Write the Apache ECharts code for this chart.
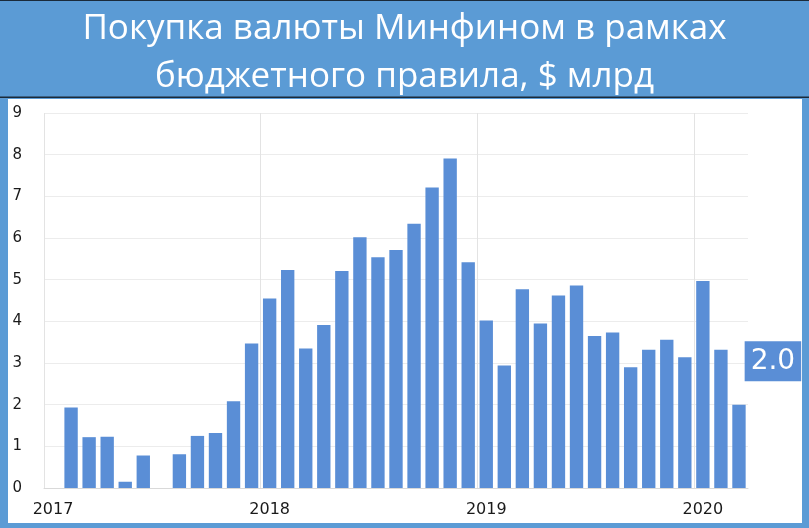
<!DOCTYPE html>
<html><head><meta charset="utf-8">
<script src="https://cdn.jsdelivr.net/npm/echarts@6/dist/echarts.min.js"></script>
<style>html,body{margin:0;padding:0;background:#5b9bd5}#c{width:809px;height:528px}</style>
</head><body><div id="c"></div><script>
const titleLines = ['Покупка валюты Минфином в рамках', 'бюджетного правила, $ млрд'];
const months = [
  '2017-01','2017-02','2017-03','2017-04','2017-05','2017-06','2017-07','2017-08','2017-09','2017-10','2017-11','2017-12',
  '2018-01','2018-02','2018-03','2018-04','2018-05','2018-06','2018-07','2018-08','2018-09','2018-10','2018-11','2018-12',
  '2019-01','2019-02','2019-03','2019-04','2019-05','2019-06','2019-07','2019-08','2019-09','2019-10','2019-11','2019-12',
  '2020-01','2020-02','2020-03'
];
const purchases = [
  null,1.93,1.22,1.23,0.15,0.78,0,0.81,1.25,1.32,2.08,3.47,
  4.55,5.23,3.35,3.91,5.21,6.02,5.54,5.71,6.34,7.21,7.91,5.42,
  4.02,2.94,4.77,3.95,4.62,4.86,3.65,3.73,2.90,3.32,3.56,3.14,
  4.97,3.32,2.0
];
const yTicks = [0,1,2,3,4,5,6,7,8,9];
// month boundaries (start of each month + end of last month) for the year gridlines
const boundaries = months.concat(['2020-04']);

const BLUE = '#5b9bd5';
const BAR = '#5a8ed6';

const data = purchases.map((v, i) => {
  if (i === purchases.length - 1) {
    return {
      value: v,
      label: {
        show: true, position: 'right', distance: 0, offset: [-1, -85],
        formatter: p => p.value.toFixed(1),
        color: '#fff', backgroundColor: BAR, fontSize: 28, lineHeight: 30,
        fontFamily: 'DejaVu Sans', padding: [5, 6, 5, 6]
      }
    };
  }
  return v;
});

const chart = echarts.init(document.getElementById('c'), null, {renderer: 'canvas'});
chart.setOption({
  backgroundColor: BLUE,
  animation: false,
  graphic: {
    z: -10,
    elements: [
      {type: 'rect', shape: {x: 0, y: 0, width: 809, height: 1}, style: {fill: '#1a2a3a'}},
      {type: 'rect', shape: {x: 0, y: 96.5, width: 809, height: 1.5}, style: {fill: '#1a2a3a'}},
      {type: 'rect', shape: {x: 8, y: 99, width: 794, height: 424}, style: {fill: '#ffffff'}}
    ]
  },
  title: {
    text: titleLines.join('\n'),
    left: 'center', top: 0,
    textStyle: {color: '#fff', fontSize: 35, lineHeight: 48, fontWeight: 'normal', fontFamily: 'Open Sans'}
  },
  grid: {left: 44, right: 61, top: 113, bottom: 40, containLabel: false},
  xAxis: [{
    type: 'category', data: months, boundaryGap: true,
    axisLine: {show: true, lineStyle: {color: '#d9d9d9', width: 1}},
    axisTick: {show: false},
    axisLabel: {
      interval: (i, v) => v.endsWith('-01'),
      formatter: v => v.slice(0, 4),
      color: '#1a1a1a', fontSize: 16, fontFamily: 'DejaVu Sans', margin: 14
    },
    splitLine: {show: false}
  }, {
    type: 'category', data: boundaries, boundaryGap: false, position: 'top',
    axisLine: {show: false}, axisTick: {show: false}, axisLabel: {show: false},
    splitLine: {show: true, interval: (i) => i % 12 === 0, lineStyle: {color: '#e3e3e3', width: 1}}
  }],
  yAxis: {
    type: 'value', min: yTicks[0], max: yTicks[yTicks.length - 1], interval: 1,
    axisLine: {show: false}, axisTick: {show: false},
    axisLabel: {color: '#1a1a1a', fontSize: 15, fontFamily: 'DejaVu Sans', margin: 22},
    splitLine: {lineStyle: {color: '#ececec', width: 1}}
  },
  series: [{
    type: 'bar', data: data, barCategoryGap: '26%', xAxisIndex: 0,
    itemStyle: {color: BAR}
  }]
});
</script></body></html>
